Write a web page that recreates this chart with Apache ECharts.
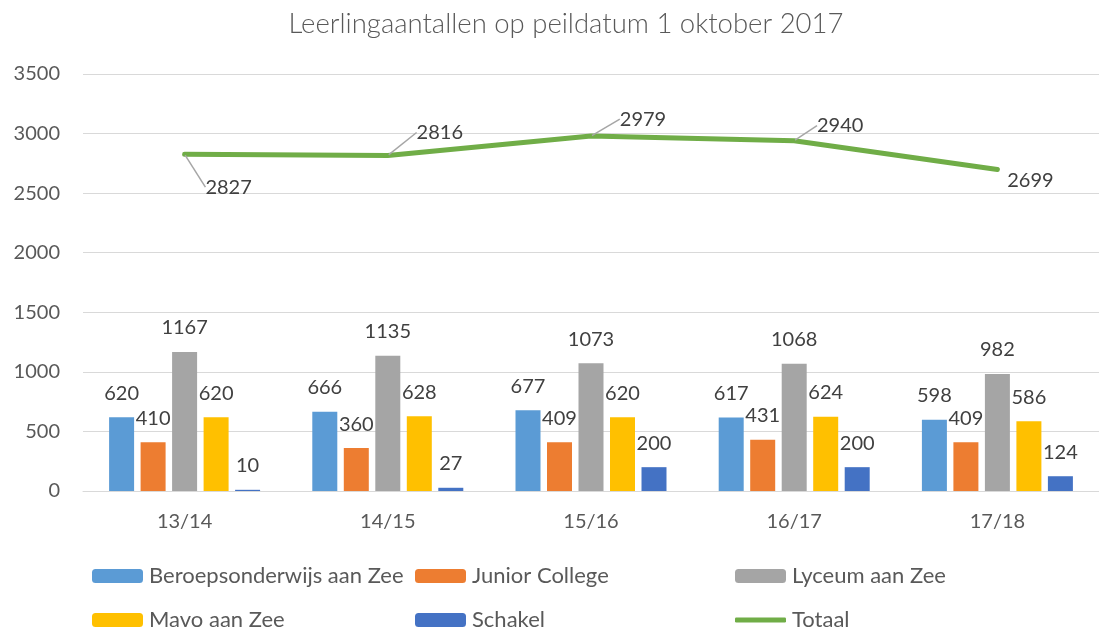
<!DOCTYPE html>
<html>
<head>
<meta charset="utf-8">
<script src="https://cdn.jsdelivr.net/npm/echarts@6/dist/echarts.min.js"></script>
<style>
  html, body { margin: 0; padding: 0; background: #fff; }
  #chart { width: 1099px; height: 629px; }
</style>
</head>
<body>
<div id="chart"></div>
<script>
var categories = ['13/14', '14/15', '15/16', '16/17', '17/18'];
var beroeps = [620, 666, 677, 617, 598];
var junior = [410, 360, 409, 431, 409];
var lyceum = [1167, 1135, 1073, 1068, 982];
var mavo = [620, 628, 620, 624, 586];
var schakel = [10, 27, 200, 200, 124];
var totaal = [2827, 2816, 2979, 2940, 2699];
var yTicks = [0, 500, 1000, 1500, 2000, 2500, 3000, 3500];

// where the Excel callouts sit relative to their point
var calloutShift = [[44, 33], [52, -23], [52, -17], [46, -15], [33, 11]];

var font = 'Lato, "Open Sans", sans-serif';
var grey = '#595959';

function barSeries(name, data, color) {
    return {
        name: name,
        type: 'bar',
        data: data,
        barWidth: 25,
        barGap: '26%',
        itemStyle: { color: color },
        label: {
            show: true,
            position: 'top',
            distance: 14,
            color: '#404040',
            fontSize: 20,
            fontFamily: font
        }
    };
}

// one legend per item, laid out like Excel's 3-column grid
function legendItem(name, left, top, extra) {
    var l = {
        left: left,
        top: top,
        padding: 0,
        itemWidth: 51,
        itemHeight: 14,
        data: [name],
        textStyle: { color: grey, fontSize: 22, fontFamily: font, padding: [0, 0, 0, 1] }
    };
    for (var k in extra) l[k] = extra[k];
    return l;
}

var chart = echarts.init(document.getElementById('chart'));

var option = {
    backgroundColor: '#fff',
    animation: false,
    title: {
        text: 'Leerlingaantallen op peildatum 1 oktober 2017',
        left: 561,
        top: 5,
        textAlign: 'center',
        textStyle: {
            color: grey,
            fontSize: 27.5,
            fontWeight: 300,
            fontFamily: font
        }
    },
    grid: { left: 83, top: 74, width: 1025, height: 417, containLabel: false },
    legend: [
        legendItem('Beroepsonderwijs aan Zee', 92, 565),
        legendItem('Junior College', 415, 565),
        legendItem('Lyceum aan Zee', 735, 565),
        legendItem('Mavo aan Zee', 92, 609),
        legendItem('Schakel', 415, 609),
        legendItem('Totaal', 735, 609, { icon: 'roundRect', itemHeight: 5 })
    ],
    xAxis: {
        type: 'category',
        data: categories,
        axisLine: { lineStyle: { color: '#D9D9D9', width: 1 } },
        axisTick: { show: false },
        axisLabel: { color: grey, fontSize: 20, fontFamily: font, margin: 21 }
    },
    yAxis: {
        type: 'value',
        min: yTicks[0],
        max: yTicks[yTicks.length - 1],
        interval: 500,
        axisLine: { show: false },
        axisTick: { show: false },
        splitLine: { lineStyle: { color: '#D9D9D9', width: 1 } },
        axisLabel: {
            color: grey, fontSize: 20, fontFamily: font, margin: 23,
            formatter: function (v) { return String(v); }
        }
    },
    series: [
        barSeries('Beroepsonderwijs aan Zee', beroeps, '#5B9BD5'),
        barSeries('Junior College', junior, '#ED7D31'),
        barSeries('Lyceum aan Zee', lyceum, '#A5A5A5'),
        barSeries('Mavo aan Zee', mavo, '#FFC000'),
        barSeries('Schakel', schakel, '#4472C4'),
        {
            name: 'Totaal',
            type: 'line',
            data: totaal.map(function (v, i) {
                return { value: v, labelLine: { show: i !== 4 } };
            }),
            symbol: 'circle',
            symbolSize: 2,
            itemStyle: { color: '#70AD47' },
            lineStyle: { color: '#70AD47', width: 5, cap: 'round' },
            z: 5,
            label: {
                show: true,
                position: 'inside',
                color: '#404040',
                fontSize: 20,
                fontFamily: font
            },
            labelLine: {
                show: true,
                lineStyle: { color: '#A6A6A6', width: 1.5 }
            },
            labelLayout: function (params) {
                var s = calloutShift[params.dataIndex];
                return { dx: s[0], dy: s[1] };
            }
        }
    ]
};

chart.setOption(option);
</script>
</body>
</html>
